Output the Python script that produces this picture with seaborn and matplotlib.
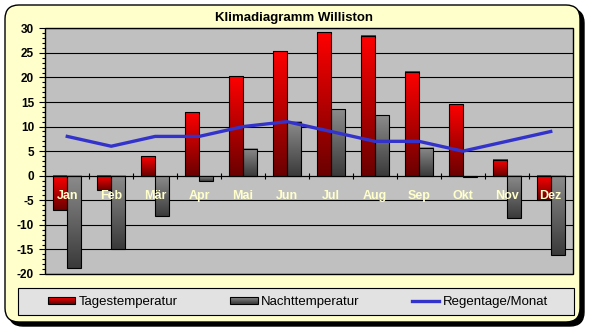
import numpy as np
import pandas as pd
import matplotlib
matplotlib.use("Agg")
import matplotlib.pyplot as plt
import seaborn as sns
from matplotlib.patches import Rectangle, FancyBboxPatch
from matplotlib.lines import Line2D
from matplotlib.legend_handler import HandlerBase
from matplotlib.colors import LinearSegmentedColormap, to_rgb
from matplotlib.ticker import MultipleLocator

# ---------------- data ----------------
months = ["Jan", "Feb", "Mär", "Apr", "Mai", "Jun", "Jul", "Aug", "Sep", "Okt", "Nov", "Dez"]
tagestemperatur = [-7, -3, 4, 13, 20.2, 25.4, 29.3, 28.5, 21.2, 14.5, 3.3, -5]
nachttemperatur = [-18.8, -14.9, -8.1, -1, 5.5, 11, 13.5, 12.3, 5.7, -0.2, -8.7, -16.2]
regentage = [8, 6, 8, 8, 10, 11, 9, 7, 7, 5, 7, 9]
series_names = ["Tagestemperatur", "Nachttemperatur", "Regentage/Monat"]
title = "Klimadiagramm Williston"
yticks = list(range(-20, 31, 5))

plt.rcParams["font.family"] = ["Liberation Sans", "DejaVu Sans"]

df = pd.DataFrame({
    "Monat": months * 2,
    "Reihe": [series_names[0]] * 12 + [series_names[1]] * 12,
    "Wert": tagestemperatur + nachttemperatur,
})

W, H = 589, 330
fig = plt.figure(figsize=(W / 100, H / 100), dpi=100)
fig.patch.set_facecolor("white")

# chart area background with rounded corners and shadow
x0, x1, ytop, ybot = 5, 580, 5, 322
shadow = FancyBboxPatch((x0 / 100 + 0.04, (H - ybot) / 100 - 0.04), (x1 - x0) / 100, (ybot - ytop) / 100,
                        boxstyle="round,pad=0,rounding_size=0.14", transform=fig.dpi_scale_trans,
                        facecolor="black", edgecolor="black", zorder=-3)
main = FancyBboxPatch((x0 / 100, (H - ybot) / 100), (x1 - x0) / 100, (ybot - ytop) / 100,
                      boxstyle="round,pad=0,rounding_size=0.14", transform=fig.dpi_scale_trans,
                      facecolor="#FFFFCC", edgecolor="black", linewidth=1.0, zorder=-2)
fig.add_artist(shadow)
fig.add_artist(main)

# plot area
L, R, T, B = 45.3, 572.7, 28.3, 274.0
ax = fig.add_axes([L / W, 1 - B / H, (R - L) / W, (B - T) / H])
ax.set_facecolor("#C0C0C0")

red_cmap = LinearSegmentedColormap.from_list("r", ["#6A0000", "#FF0000"])
gray_cmap = LinearSegmentedColormap.from_list("g", ["#3A3A3A", "#8C8C8C"])
bar_colors = ["#FF0000", "#808080"]

sns.barplot(data=df, x="Monat", y="Wert", hue="Reihe", order=months,
            hue_order=series_names[:2], palette=bar_colors, saturation=1,
            width=0.646, gap=0, errorbar=None, edgecolor="black", linewidth=0.8,
            legend=False, ax=ax)

grad = np.linspace(1, 0, 256).reshape(-1, 1)
red_rgb = np.array(to_rgb(bar_colors[0]))
for p in list(ax.patches):
    fc = np.array(p.get_facecolor()[:3])
    cmap = red_cmap if np.allclose(fc, red_rgb, atol=0.05) else gray_cmap
    bx, by = p.get_x(), p.get_y()
    bw, bh = p.get_width(), p.get_height()
    ylo, yhi = min(by, by + bh), max(by, by + bh)
    if yhi - ylo <= 0:
        continue
    ax.imshow(grad, cmap=cmap, vmin=0, vmax=1, extent=[bx, bx + bw, ylo, yhi],
              origin="upper", aspect="auto", interpolation="bilinear", zorder=0.9)
    p.set_facecolor("none")
    p.set_zorder(1)

sns.lineplot(x=np.arange(len(months)), y=regentage, color="#3333CC", linewidth=2.4,
             ax=ax, zorder=4, legend=False)

ax.set_xlim(-0.5, len(months) - 0.5)
ax.set_ylim(-20, 30)
ax.set_aspect("auto")
ax.set_xlabel("")
ax.set_ylabel("")

# y axis
ax.set_yticks(yticks, labels=[str(v) for v in yticks], fontsize=8.5, fontweight="bold")
ax.yaxis.set_minor_locator(MultipleLocator(1))
ax.tick_params(axis="y", which="major", length=4.5, width=0.8, pad=3.6, color="black")
ax.tick_params(axis="y", which="minor", length=2.5, width=0.8, color="black")
ax.set_axisbelow(True)
ax.yaxis.grid(True, which="major", color="black", linewidth=0.8)
ax.xaxis.grid(False)

# x axis at zero with ticks between categories
ax.set_xticks(np.arange(0.5, len(months) - 1, 1), labels=[""] * (len(months) - 1))
ax.tick_params(axis="x", which="both", direction="inout", length=4.5, width=0.8, color="black")
ax.xaxis.set_minor_locator(plt.NullLocator())
for s in ["top", "left", "right"]:
    ax.spines[s].set_visible(False)
ax.spines["bottom"].set_position(("data", 0))
ax.spines["bottom"].set_linewidth(0.8)
ax.add_patch(Rectangle((0, 0), 1, 1, transform=ax.transAxes, fill=False,
                       edgecolor="black", linewidth=1.0, clip_on=False, zorder=3))

for i, m in enumerate(months):
    ax.annotate(m, xy=(i, 0), xytext=(0, -17), textcoords="offset points",
                ha="center", va="baseline", fontsize=9, fontweight="bold",
                color="#FFFFCC", zorder=6)

# title
fig.text(294 / W, 1 - 20.7 / H, title, ha="center", va="baseline",
         fontsize=9.5, fontweight="bold")

# legend
class HandlerGradient(HandlerBase):
    def __init__(self, cmap):
        super().__init__()
        self.cmap = cmap

    def create_artists(self, legend, orig_handle, xdescent, ydescent, width, height,
                       fontsize, trans):
        arts = []
        n = 14
        for k in range(n):
            c = self.cmap(1 - k / (n - 1))
            yk = -ydescent + height * (1 - (k + 1) / n)
            arts.append(Rectangle((-xdescent, yk), width, height / n + 0.01,
                                  facecolor=c, edgecolor="none", transform=trans))
        arts.append(Rectangle((-xdescent, -ydescent), width, height, facecolor="none",
                              edgecolor="black", linewidth=0.8, transform=trans))
        return arts

lx0, lx1, ly0, ly1 = 18.3, 573.7, 288.3, 315.3
fig.add_artist(Rectangle((lx0 / 100, (H - ly1) / 100), (lx1 - lx0) / 100, (ly1 - ly0) / 100,
                         transform=fig.dpi_scale_trans, facecolor="#E2E2E2",
                         edgecolor="black", linewidth=0.8, zorder=1))

h_red = Rectangle((0, 0), 1, 1)
h_gray = Rectangle((0, 0), 1, 1)
h_line = Line2D([], [], color="#3333CC", linewidth=2.4)
fig.legend([h_red, h_gray, h_line], series_names,
           handler_map={h_red: HandlerGradient(red_cmap), h_gray: HandlerGradient(gray_cmap)},
           loc="center", bbox_to_anchor=(48 / W, 1 - 312 / H, (548 - 48) / W, 20 / H),
           bbox_transform=fig.transFigure, mode="expand", ncol=3, frameon=False,
           borderaxespad=0, borderpad=0, handlelength=2.05, handleheight=0.5,
           handletextpad=0.25, fontsize=9.5)

fig.savefig("out.png", dpi=100)
